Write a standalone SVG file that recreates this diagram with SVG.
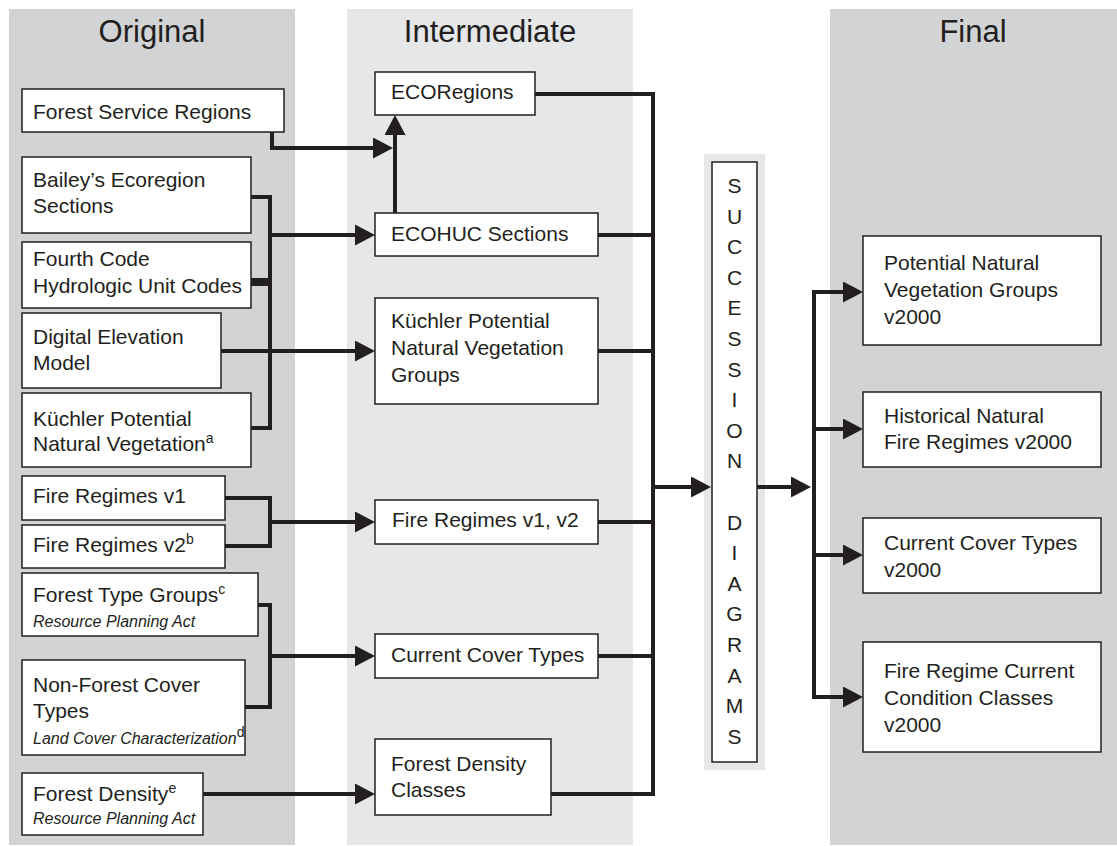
<svg xmlns="http://www.w3.org/2000/svg" width="1117" height="846" viewBox="0 0 1117 846">
<style>
  text { font-family: "Liberation Sans", Arial, Helvetica, sans-serif; fill: #231f20; }
  .title { font-size: 31px; text-anchor: middle; }
  .t { font-size: 21px; }
  .it { font-size: 16px; font-style: italic; }
  .sup { font-size: 14px; }
  .box { fill: #ffffff; stroke: #231f20; stroke-width: 1.5; }
  .band-dark { fill: #d1d3d4; }
  .band-light { fill: #e6e7e8; }
  .ln { fill: none; stroke: #231f20; stroke-width: 4; stroke-linejoin: miter; }
  .arr { marker-end: url(#ah); }
  .succ { font-size: 21px; text-anchor: middle; }
</style>
<defs>
  <marker id="ah" markerUnits="userSpaceOnUse" markerWidth="20" markerHeight="21" refX="16" refY="10.5" orient="auto">
    <path d="M0,0 L20,10.5 L0,21 Z" fill="#231f20"/>
  </marker>
</defs>

<g id="bands">
  <rect class="band-dark" x="9" y="9" width="286" height="836"/>
  <rect class="band-light" x="347" y="9" width="286" height="836"/>
  <rect class="band-dark" x="830" y="9" width="287" height="836"/>
  <rect class="band-light" x="704" y="154" width="61" height="616"/>
  <text class="title" x="152" y="42">Original</text>
  <text class="title" x="490" y="42">Intermediate</text>
  <text class="title" x="973" y="42">Final</text>
</g>

<g id="connectors">
  <path class="ln arr" d="M272,132 V148 H389"/>
  <path class="ln arr" d="M395,213 V119"/>
  <path class="ln" d="M251,197 H270 V280 H251"/>
  <path class="ln arr" d="M270,235 H371"/>
  <path class="ln" d="M251,284 H270 V428 H251"/>
  <path class="ln arr" d="M221,351 H371"/>
  <path class="ln" d="M225,498 H270 V546 H225"/>
  <path class="ln arr" d="M270,522 H371"/>
  <path class="ln" d="M258,605 H270 V707 H245"/>
  <path class="ln arr" d="M270,656 H371"/>
  <path class="ln arr" d="M203,794 H371"/>
  <path class="ln" d="M535,94 H653 V794 H551"/>
  <path class="ln" d="M598,235 H653"/>
  <path class="ln" d="M598,351 H653"/>
  <path class="ln" d="M598,522 H653"/>
  <path class="ln" d="M598,656 H653"/>
  <path class="ln arr" d="M653,487 H707"/>
  <path class="ln arr" d="M757,487 H807"/>
  <path class="ln" d="M830,292 H814 V697 H830"/>
  <path class="ln arr" d="M814,292 H859"/>
  <path class="ln arr" d="M814,429 H859"/>
  <path class="ln arr" d="M814,555 H859"/>
  <path class="ln arr" d="M814,697 H859"/>
</g>

<g id="forest-service-regions">
  <rect class="box" x="22" y="89" width="262" height="43"/>
  <text class="t" x="33" y="119">Forest Service Regions</text>
</g>
<g id="baileys-ecoregion-sections">
  <rect class="box" x="22" y="157" width="229" height="76"/>
  <text class="t"><tspan x="33" y="187">Bailey’s Ecoregion</tspan><tspan x="33" y="213">Sections</tspan></text>
</g>
<g id="fourth-code-huc">
  <rect class="box" x="22" y="242" width="229" height="66"/>
  <text class="t"><tspan x="33" y="266">Fourth Code</tspan><tspan x="33" y="293">Hydrologic Unit Codes</tspan></text>
</g>
<g id="digital-elevation-model">
  <rect class="box" x="22" y="313" width="199" height="75"/>
  <text class="t"><tspan x="33" y="344">Digital Elevation</tspan><tspan x="33" y="370">Model</tspan></text>
</g>
<g id="kuchler-pnv">
  <rect class="box" x="22" y="393" width="229" height="74"/>
  <text class="t"><tspan x="33" y="426">Küchler Potential</tspan><tspan x="33" y="451">Natural Vegetation</tspan><tspan class="sup" dy="-8">a</tspan></text>
</g>
<g id="fire-regimes-v1">
  <rect class="box" x="22" y="476" width="203" height="44"/>
  <text class="t" x="33" y="503">Fire Regimes v1</text>
</g>
<g id="fire-regimes-v2">
  <rect class="box" x="22" y="525" width="203" height="43"/>
  <text class="t" x="33" y="552">Fire Regimes v2<tspan class="sup" dy="-8">b</tspan></text>
</g>
<g id="forest-type-groups">
  <rect class="box" x="22" y="573" width="236" height="63"/>
  <text class="t" x="33" y="602">Forest Type Groups<tspan class="sup" dy="-8">c</tspan></text>
  <text class="it" x="33" y="627">Resource Planning Act</text>
</g>
<g id="non-forest-cover-types">
  <rect class="box" x="22" y="660" width="223" height="95"/>
  <text class="t"><tspan x="33" y="692">Non-Forest Cover</tspan><tspan x="33" y="718">Types</tspan></text>
  <text class="it" x="33" y="744">Land Cover Characterization<tspan class="sup" font-style="normal" dy="-7">d</tspan></text>
</g>
<g id="forest-density">
  <rect class="box" x="22" y="773" width="181" height="62"/>
  <text class="t" x="33" y="801">Forest Density<tspan class="sup" dy="-8">e</tspan></text>
  <text class="it" x="33" y="824">Resource Planning Act</text>
</g>

<g id="ecoregions">
  <rect class="box" x="375" y="72" width="160" height="43"/>
  <text class="t" x="391" y="99">ECORegions</text>
</g>
<g id="ecohuc-sections">
  <rect class="box" x="375" y="213" width="223" height="43"/>
  <text class="t" x="391" y="241">ECOHUC Sections</text>
</g>
<g id="kuchler-pnvg">
  <rect class="box" x="375" y="298" width="223" height="106"/>
  <text class="t"><tspan x="391" y="328">Küchler Potential</tspan><tspan x="391" y="355">Natural Vegetation</tspan><tspan x="391" y="382">Groups</tspan></text>
</g>
<g id="fire-regimes-v1-v2">
  <rect class="box" x="375" y="500" width="223" height="44"/>
  <text class="t" x="392" y="527">Fire Regimes v1, v2</text>
</g>
<g id="current-cover-types">
  <rect class="box" x="375" y="634" width="223" height="44"/>
  <text class="t" x="391" y="662">Current Cover Types</text>
</g>
<g id="forest-density-classes">
  <rect class="box" x="375" y="739" width="176" height="76"/>
  <text class="t"><tspan x="391" y="771">Forest Density</tspan><tspan x="391" y="797">Classes</tspan></text>
</g>

<g id="succession-diagrams">
  <rect class="box" x="712" y="162" width="45" height="600"/>
  <text class="succ"><tspan x="734.5" y="193">S</tspan><tspan x="734.5" y="223.6">U</tspan><tspan x="734.5" y="254.2">C</tspan><tspan x="734.5" y="284.8">C</tspan><tspan x="734.5" y="315.4">E</tspan><tspan x="734.5" y="346">S</tspan><tspan x="734.5" y="376.6">S</tspan><tspan x="734.5" y="407.2">I</tspan><tspan x="734.5" y="437.8">O</tspan><tspan x="734.5" y="468.4">N</tspan><tspan x="734.5" y="529.6">D</tspan><tspan x="734.5" y="560.2">I</tspan><tspan x="734.5" y="590.8">A</tspan><tspan x="734.5" y="621.4">G</tspan><tspan x="734.5" y="652">R</tspan><tspan x="734.5" y="682.6">A</tspan><tspan x="734.5" y="713.2">M</tspan><tspan x="734.5" y="743.8">S</tspan></text>
</g>

<g id="pnvg-v2000">
  <rect class="box" x="863" y="236" width="238" height="109"/>
  <text class="t"><tspan x="884" y="270">Potential Natural</tspan><tspan x="884" y="297">Vegetation Groups</tspan><tspan x="884" y="324">v2000</tspan></text>
</g>
<g id="historical-fire-regimes-v2000">
  <rect class="box" x="863" y="392" width="238" height="75"/>
  <text class="t"><tspan x="884" y="423">Historical Natural</tspan><tspan x="884" y="449">Fire Regimes v2000</tspan></text>
</g>
<g id="current-cover-types-v2000">
  <rect class="box" x="863" y="518" width="238" height="75"/>
  <text class="t"><tspan x="884" y="550">Current Cover Types</tspan><tspan x="884" y="577">v2000</tspan></text>
</g>
<g id="fire-regime-ccc-v2000">
  <rect class="box" x="863" y="642" width="238" height="110"/>
  <text class="t"><tspan x="884" y="678">Fire Regime Current</tspan><tspan x="884" y="705">Condition Classes</tspan><tspan x="884" y="732">v2000</tspan></text>
</g>
</svg>
